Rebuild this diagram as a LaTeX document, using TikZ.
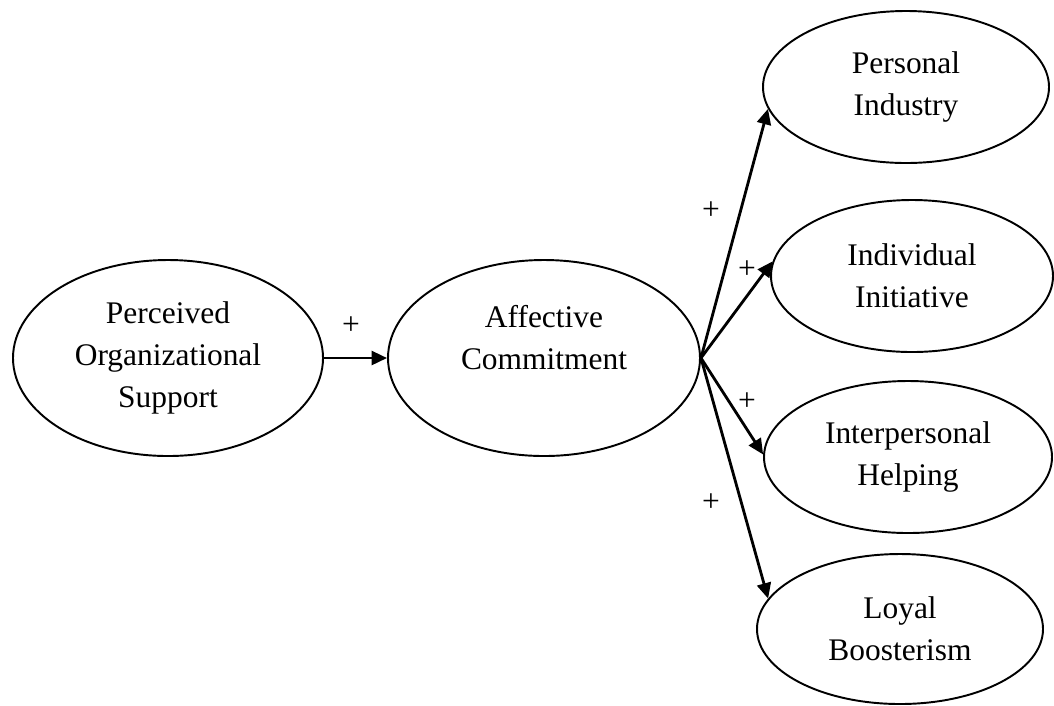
\documentclass[tikz,border=0pt]{standalone}
\usepackage{fontspec}
\setmainfont{Liberation Serif}
\usetikzlibrary{shapes.geometric, arrows.meta}
\tikzstyle{construct} = [ellipse, draw, line width=1.1pt, inner sep=0pt, text centered, align=center, font=\fontsize{17.9}{23.9}\selectfont]
\tikzstyle{sign} = [inner sep=0pt, font=\fontsize{17.9}{23.9}\selectfont]
\tikzstyle{arrow} = [line width=1.6pt, -{Triangle[length=3.1mm,width=2.8mm]}]

\begin{document}
\begin{tikzpicture}
    \useasboundingbox (0,0) rectangle (21.08,-14.1);
    \node [construct, minimum width=6.2cm, minimum height=3.92cm] at (3.36,-7.16) (pos) {Perceived\\Organizational\\Support};
    \node [construct, minimum width=6.24cm, minimum height=3.92cm] at (10.88,-7.16) (ac) {Affective\\Commitment\\~};
    \node [construct, minimum width=5.72cm, minimum height=3.04cm] at (18.12,-1.74) (pi) {Personal\\Industry};
    \node [construct, minimum width=5.64cm, minimum height=3.04cm] at (18.24,-5.52) (ii) {Individual\\Initiative};
    \node [construct, minimum width=5.76cm, minimum height=3.04cm] at (18.16,-9.14) (ih) {Interpersonal\\Helping};
    \node [construct, minimum width=5.72cm, minimum height=3.0cm] at (18.0,-12.58) (lb) {Loyal\\Boosterism};

    \node [sign] at (7.02,-6.52) (s1) {+};
    \node [sign] at (14.22,-4.22) (s2) {+};
    \node [sign] at (14.94,-5.4) (s3) {+};
    \node [sign] at (14.94,-8.04) (s4) {+};
    \node [sign] at (14.22,-10.06) (s5) {+};

    \draw [arrow] (pos) -- (ac);
    \draw [arrow] (ac.east) -- (pi.189);
    \draw [arrow] (ac.east) -- (ii.174);
    \draw [arrow] (ac.east) -- (ih.179);
    \draw [arrow] (ac.east) -- (lb.167);
\end{tikzpicture}
\end{document}
